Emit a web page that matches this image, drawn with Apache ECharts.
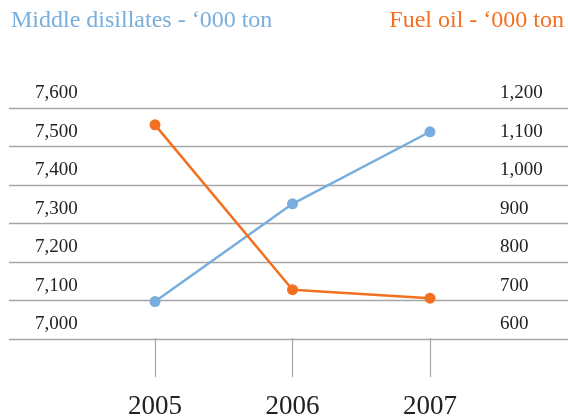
<!DOCTYPE html>
<html>
<head>
<meta charset="utf-8">
<script src="https://cdn.jsdelivr.net/npm/echarts@6/dist/echarts.min.js"></script>
<style>
  html, body { margin: 0; padding: 0; background: #fff; }
  #main { width: 568px; height: 420px; }
</style>
</head>
<body>
<div id="main"></div>
<script>
// 年份
var years = ['2005', '2006', '2007'];
// 中间馏分油 - 千吨 (左轴)
var middleDistillates = [7095, 7350, 7538];
// 燃料油 - 千吨 (右轴)
var fuelOil = [1156, 726, 704];
// 左右轴刻度范围
var leftTicks = [7000, 7600, 100];
var rightTicks = [600, 1200, 100];

var blue = '#78aedd';
var orange = '#f2701f';
var gray = '#a6a6a6';
var serif = '"Liberation Serif", "DejaVu Serif", serif';

var myChart = echarts.init(document.getElementById('main'));
var option = {
  animation: false,
  title: [
    { text: 'Middle disillates - \u2018000 ton', left: 6, top: 4,
      textStyle: { color: blue, fontFamily: serif, fontWeight: 'normal', fontSize: 24 } },
    { text: 'Fuel oil - \u2018000 ton', right: -1, top: 4,
      textStyle: { color: orange, fontFamily: serif, fontWeight: 'normal', fontSize: 24 } }
  ],
  grid: [
    // 网格线用
    { left: 9, right: 0, top: 108, bottom: 81 },
    // 数据用
    { left: 155, right: 138, top: 108, bottom: 81 }
  ],
  xAxis: [
    { type: 'category', gridIndex: 0, data: years, show: false },
    {
      type: 'category', gridIndex: 1, data: years, boundaryGap: false,
      axisLine: { show: false },
      axisTick: { show: true, length: 39, lineStyle: { color: gray, width: 1.2 } },
      axisLabel: { margin: 55, color: '#222', fontFamily: serif, fontSize: 27 }
    }
  ],
  yAxis: [
    {
      type: 'value', gridIndex: 0, position: 'left',
      min: leftTicks[0], max: leftTicks[1], interval: leftTicks[2],
      axisLine: { show: false }, axisTick: { show: false },
      splitLine: { lineStyle: { color: gray, width: 1.3 } },
      axisLabel: {
        inside: true, margin: 26, verticalAlign: 'bottom', padding: [0, 0, 5, 0],
        color: '#222', fontFamily: serif, fontSize: 19,
        formatter: function (v) { return v.toLocaleString('en-US'); }
      }
    },
    {
      type: 'value', gridIndex: 0, position: 'right',
      min: rightTicks[0], max: rightTicks[1], interval: rightTicks[2],
      axisLine: { show: false }, axisTick: { show: false }, splitLine: { show: false },
      axisLabel: {
        inside: true, margin: 68, align: 'left', verticalAlign: 'bottom', padding: [0, 0, 5, 0],
        color: '#222', fontFamily: serif, fontSize: 19,
        formatter: function (v) { return v.toLocaleString('en-US'); }
      }
    },
    { type: 'value', gridIndex: 1, min: leftTicks[0], max: leftTicks[1], show: false },
    { type: 'value', gridIndex: 1, min: rightTicks[0], max: rightTicks[1], show: false }
  ],
  series: [
    {
      name: 'Middle disillates', type: 'line', xAxisIndex: 1, yAxisIndex: 2,
      data: middleDistillates, symbol: 'circle', symbolSize: 11,
      itemStyle: { color: blue }, lineStyle: { color: blue, width: 2.5 }
    },
    {
      name: 'Fuel oil', type: 'line', xAxisIndex: 1, yAxisIndex: 3,
      data: fuelOil, symbol: 'circle', symbolSize: 11,
      itemStyle: { color: orange }, lineStyle: { color: orange, width: 2.5 }
    }
  ]
};
option && myChart.setOption(option);
</script>
</body>
</html>
